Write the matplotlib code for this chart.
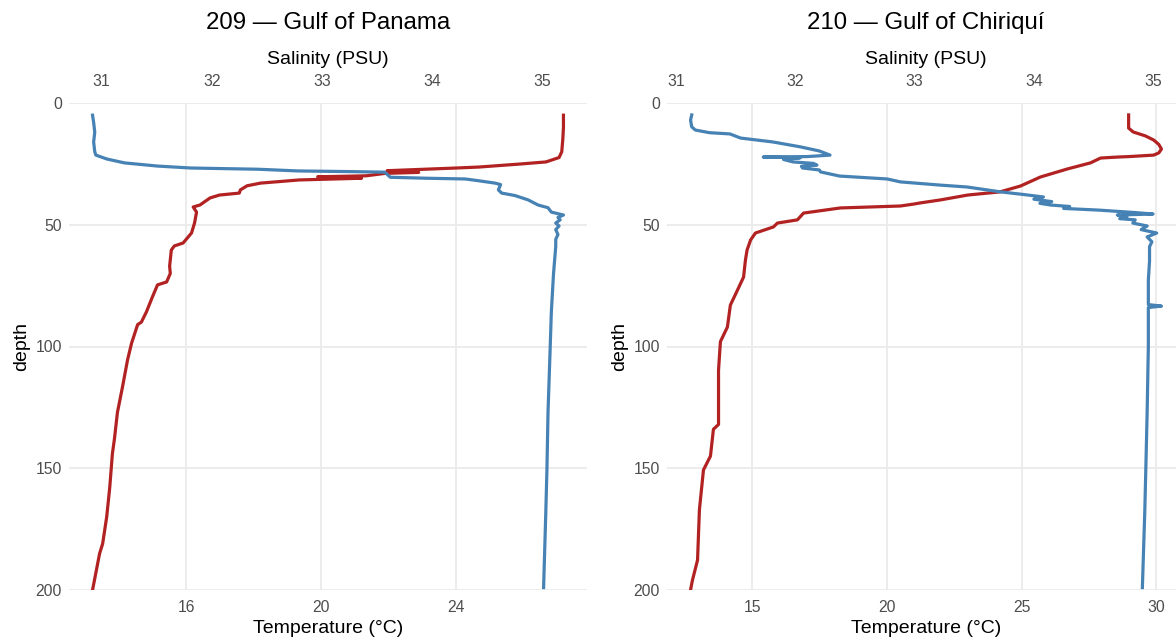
import matplotlib
matplotlib.use("Agg")
import matplotlib.pyplot as plt
import numpy as np

plt.rcParams['font.family'] = ['Liberation Sans', 'DejaVu Sans']

# ---- Station 209, Gulf of Panama ----
st209_temp_depth = [5.0, 10.0, 15.0, 20.0, 22.4, 24.2, 25.0, 26.3, 26.7, 27.8, 28.5, 28.9,
                    29.9, 30.3, 30.9, 31.6, 32.9, 34.0, 35.7, 37.0, 37.8, 39.0, 41.9,
                    42.7, 44.8, 49.3, 53.4, 57.5, 58.7, 60.4, 67.0, 70.0, 73.5, 74.7, 79.6,
                    85.8, 90.0, 91.0, 98.6, 105.5, 116.6, 127.0, 138.0, 144.0, 158.0, 170.0,
                    181.0, 185.0, 200.0]
st209_temp = [27.20, 27.20, 27.18, 27.15, 27.07, 26.68, 25.97, 24.69, 24.01, 21.96, 22.90, 21.90,
              21.34, 19.90, 21.20, 19.35, 18.20, 17.80, 17.60, 17.57, 16.98, 16.70, 16.40,
              16.20, 16.30, 16.24, 16.15, 15.90, 15.64, 15.55, 15.50, 15.52, 15.41, 15.14, 14.99,
              14.81, 14.66, 14.55, 14.37, 14.25, 14.10, 13.95, 13.86, 13.80, 13.72, 13.63,
              13.51, 13.42, 13.21]

st209_sal_depth = [5.0, 8.0, 12.0, 16.0, 20.0, 21.4, 23.0, 24.6, 25.9, 26.7, 27.2, 27.9,
                   28.2, 28.4, 30.5, 30.9, 31.2, 31.8, 32.9, 33.5, 35.7, 37.0,
                   38.0, 39.8, 41.9, 43.0, 44.8, 46.0, 47.0, 48.0, 49.3, 50.5, 52.0, 54.0,
                   56.0, 59.0, 70.0, 86.0, 100.0, 127.0, 151.0, 168.0, 199.0]
st209_sal = [30.92, 30.93, 30.94, 30.93, 30.94, 30.95, 31.05, 31.21, 31.51, 31.81, 32.42, 32.78,
             33.30, 33.57, 33.62, 33.95, 34.30, 34.40, 34.57, 34.62, 34.60, 34.63,
             34.75, 34.87, 34.96, 35.05, 35.08, 35.19, 35.14, 35.16, 35.12, 35.15, 35.12, 35.14,
             35.12, 35.12, 35.10, 35.08, 35.07, 35.05, 35.04, 35.03, 35.01]

# ---- Station 210, Gulf of Chiriquí ----
st210_temp_depth = [4.9, 10.3, 11.9, 13.5, 15.2, 17.0, 18.9, 20.5, 21.4, 22.0, 22.2, 22.6,
                    24.6, 27.1, 30.4, 34.1, 36.5, 37.8, 39.8, 41.1, 41.5, 42.3, 43.1, 45.2,
                    48.0, 49.3, 50.9, 53.4, 56.3, 60.4, 64.5, 71.5, 76.0, 83.0, 92.0, 98.0,
                    109.7, 132.0, 134.0, 145.0, 150.7, 167.0, 187.7, 196.0, 200.0]
st210_temp = [28.98, 28.98, 29.15, 29.60, 29.91, 30.10, 30.20, 30.10, 29.91, 29.00, 28.57, 27.94,
              27.56, 26.70, 25.70, 24.96, 24.20, 23.00, 21.99, 21.20, 21.00, 20.50, 18.27, 16.90,
              16.67, 15.93, 15.78, 15.11, 14.93, 14.80, 14.74, 14.67, 14.48, 14.18, 14.07, 13.81,
              13.74, 13.74, 13.55, 13.44, 13.18, 13.03, 12.96, 12.77, 12.70]

st210_sal_depth = [4.9, 7.0, 9.8, 11.1, 12.2, 12.7, 14.4, 16.0, 18.0, 19.7, 21.4, 22.0,
                   22.2, 22.5, 23.2, 24.2, 24.8, 25.5, 26.0, 26.7, 27.5, 28.3, 30.0, 31.2,
                   32.4, 33.7, 34.5, 36.5, 37.5, 38.6, 39.5, 40.5, 41.2, 41.9, 42.5, 43.3,
                   44.0, 45.0, 45.6, 46.0, 46.8, 47.5, 48.0, 49.3, 50.0, 50.5, 52.0, 53.4,
                   55.0, 57.0, 59.0, 65.0, 72.7, 79.7, 82.8, 83.4, 84.0, 86.2, 100.0, 127.0,
                   148.0, 168.0, 199.0]
st210_sal = [31.13, 31.12, 31.13, 31.16, 31.28, 31.45, 31.54, 31.81, 32.04, 32.20, 32.29, 32.10,
             31.73, 32.04, 31.90, 31.98, 32.15, 32.18, 32.05, 32.06, 32.20, 32.21, 32.37, 32.77,
             32.88, 33.21, 33.44, 33.72, 33.90, 34.08, 34.00, 34.15, 34.05, 34.14, 34.30, 34.25,
             34.55, 34.85, 35.00, 34.70, 34.78, 34.72, 34.85, 34.83, 34.90, 34.95, 34.90, 35.03,
             34.95, 34.99, 34.97, 34.97, 34.96, 34.96, 34.96, 35.07, 34.96, 34.96, 34.96, 34.95,
             34.94, 34.93, 34.91]

stations = [
    ("209 \u2014 Gulf of Panama", st209_temp_depth, st209_temp, st209_sal_depth, st209_sal,
     [16, 20, 24]),
    ("210 \u2014 Gulf of Chiriqu\u00ed", st210_temp_depth, st210_temp, st210_sal_depth, st210_sal,
     [15, 20, 25, 30]),
]
sal_ticks = [31, 32, 33, 34, 35]
depth_ticks = [0, 50, 100, 150, 200]

TEMP_COLOR = "#B22222"
SAL_COLOR = "#4682B4"
GRID_COLOR = "#EBEBEB"
TICK_COLOR = "#4D4D4D"

W, H = 1176, 639
fig = plt.figure(figsize=(W / 100, H / 100), dpi=100)

panel_left = [69, 667]
panel_width = 518
panel_top, panel_bottom = 103, 590
panel_h = panel_bottom - panel_top


def px_above_top(px):
    """Axes-fraction y for a point px pixels above the panel's top edge."""
    return 1 + px / panel_h


for (title, td, t, sd, s, temp_ticks), left in zip(stations, panel_left):
    ax = fig.add_axes([left / W, 1 - panel_bottom / H, panel_width / W, panel_h / H])

    # salinity is drawn on the temperature scale, rescaled range to range
    tmin, tmax = min(t), max(t)
    smin, smax = min(s), max(s)
    k = (tmax - tmin) / (smax - smin)

    def sal_to_temp(v, tmin=tmin, smin=smin, k=k):
        return tmin + (np.asarray(v, dtype=float) - smin) * k

    def temp_to_sal(v, tmin=tmin, smin=smin, k=k):
        return smin + (np.asarray(v, dtype=float) - tmin) / k

    ax.plot(t, td, color=TEMP_COLOR, lw=2.3, solid_joinstyle="round", zorder=3)
    ax.plot(sal_to_temp(s), sd, color=SAL_COLOR, lw=2.3, solid_joinstyle="round", zorder=4)

    pad = 0.05 * (tmax - tmin)
    ax.set_xlim(tmin - pad, tmax + pad)
    ax.set_ylim(200, 0)

    ax.set_xticks(temp_ticks)
    ax.set_yticks(depth_ticks)
    ax.grid(True, color=GRID_COLOR, lw=1.3, zorder=0)
    ax.set_axisbelow(True)
    for sp in ax.spines.values():
        sp.set_visible(False)
    ax.tick_params(axis="both", length=0, labelsize=11.3, labelcolor=TICK_COLOR)
    ax.tick_params(axis="x", pad=7)
    ax.tick_params(axis="y", pad=5)

    ax.set_xlabel("Temperature (\u00b0C)", fontsize=14, labelpad=4)
    ax.set_ylabel("depth", fontsize=14, labelpad=4)

    sec = ax.secondary_xaxis("top", functions=(temp_to_sal, sal_to_temp))
    sec.set_xticks(sal_ticks)
    for sp in sec.spines.values():
        sp.set_visible(False)
    sec.tick_params(axis="x", length=0, labelsize=11.3, labelcolor=TICK_COLOR, pad=10)

    ax.text(0.5, px_above_top(44), "Salinity (PSU)", transform=ax.transAxes,
            ha="center", va="center", fontsize=14)
    ax.text(0.5, px_above_top(80), title, transform=ax.transAxes,
            ha="center", va="center", fontsize=17.3)

fig.savefig("out.png", dpi=100)
